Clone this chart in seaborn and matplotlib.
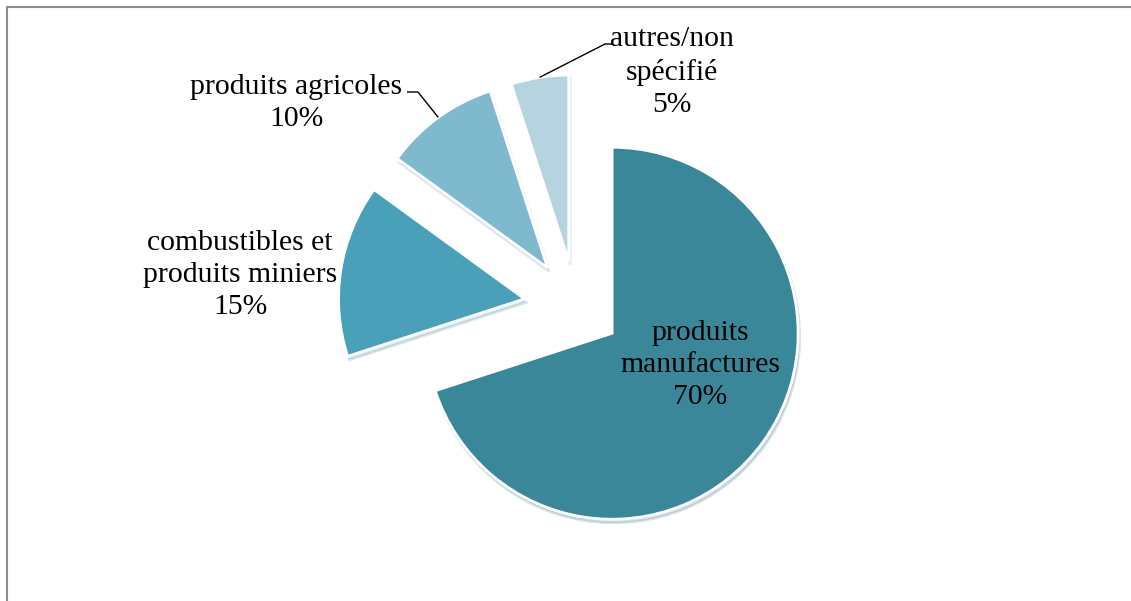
import numpy as np
import matplotlib
matplotlib.use("Agg")
import matplotlib.pyplot as plt
from matplotlib.lines import Line2D
import seaborn as sns

# Export structure by product group
categories = ["produits\nmanufactures", "combustibles et\nproduits miniers",
              "produits agricoles", "autres/non\nspécifié"]
shares = [70, 15, 10, 5]
colors = ["#3A8799", "#48A1B9", "#7FB9CE", "#B5D4E0"]
explode = [0.24, 0.28, 0.26, 0.25]

sns.set_theme(style="white")
plt.rcParams["font.family"] = ["Liberation Serif", "DejaVu Serif"]

W, H, DPI = 1131, 601, 100
fig = plt.figure(figsize=(W / DPI, H / DPI), dpi=DPI)
ax = fig.add_axes([0, 0, 1, 1])
ax.set_axis_off()

R = 186.0          # pie radius in pixels
cx, cy = 576.0, 307.0  # pie centre in pixels (from top-left)


def px(x, y):
    """pixel position -> data coordinates (pie radius = 1)"""
    return (x - cx) / R, (cy - y) / R


wedges, _ = ax.pie(
    shares, colors=colors, explode=explode, startangle=90, counterclock=False,
    radius=1.0, center=(0, 0),
    wedgeprops=dict(edgecolor="white", linewidth=2),
    shadow=dict(ox=0.006, oy=-0.014, shade=0.2, alpha=0.18),
)
ax.set_xlim(-cx / R, (W - cx) / R)
ax.set_ylim((cy - H) / R, cy / R)
ax.set_aspect("equal")

fs = 21.3
labels = [f"{c}\n{s}%" for c, s in zip(categories, shares)]
label_pos = [(700, 365), (240, 275), (296, 103), (672, 72)]
for lab, (lx, ly) in zip(labels, label_pos):
    x, y = px(lx, ly)
    ax.text(x, y, lab, ha="center", va="center", fontsize=fs,
            linespacing=1.3, color="black")


def arc_mid(w):
    """outer-arc midpoint of a wedge"""
    mid = np.deg2rad((w.theta1 + w.theta2) / 2)
    return w.center[0] + w.r * np.cos(mid), w.center[1] + w.r * np.sin(mid)


# leader lines for the two small outside labels
leaders = [
    (wedges[2], [(418, 92), (407, 92)]),
    (wedges[3], [(605, 44), (612, 44)]),
]
for w, pts in leaders:
    x0, y0 = arc_mid(w)
    xs = [x0] + [px(*p)[0] for p in pts]
    ys = [y0] + [px(*p)[1] for p in pts]
    ax.plot(xs, ys, color="black", lw=1.0, solid_capstyle="butt")

# chart area border (only top and left edges fall inside the canvas)
bx, by = 6.5 / W, 1 - 6.5 / H
fig.add_artist(Line2D([bx, 1.01], [by, by], transform=fig.transFigure,
                      color="#8c8c8c", lw=1.5))
fig.add_artist(Line2D([bx, bx], [by, -0.01], transform=fig.transFigure,
                      color="#8c8c8c", lw=1.5))

fig.savefig("out.png", dpi=DPI, facecolor="white")
